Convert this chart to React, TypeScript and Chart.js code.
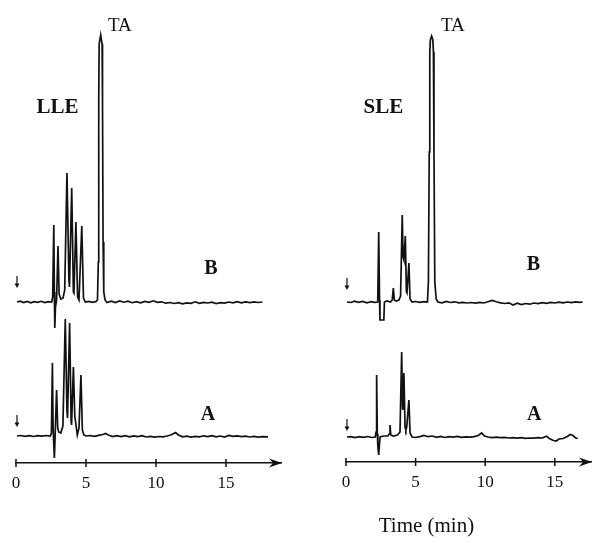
import React, { useEffect, useRef } from "react";
import { Chart, registerables } from "chart.js";
Chart.register(...registerables);

type Pt = [number, number];

const SERIF = "'Liberation Serif', 'Times New Roman', serif";
const INK = "#111";

// Time axis ticks (min)
const TIME_TICKS = [0, 5, 10, 15];

// LLE, sample B : [time (min), detector signal]
const lleB: Pt[] = [
  [0.07, 0], [0.3, 0.8], [0.55, -0.5], [0.8, 0.6], [1.05, -0.8], [1.3, 0.4], [1.55, -0.3], [1.8, 0.7], [2.05, -0.6], [2.3, 0.3], [2.55, 0],
  [2.62, 5], [2.7, 77], [2.74, 10], [2.77, -26], [2.82, -5], [2.9, 2], [3.0, 56], [3.08, 8], [3.2, 3], [3.36, 4], [3.48, 12], [3.64, 129],
  [3.78, 22], [3.82, 15], [3.98, 114], [4.1, 10], [4.14, 9], [4.28, 80], [4.4, 5], [4.5, 2], [4.7, 76], [4.82, 4], [4.95, 0],
  [5.2, 0.6], [5.45, -0.4], [5.7, 0.3], [5.82, 2], [5.88, 40], [5.91, 200], [5.94, 258], [6.05, 267], [6.15, 258], [6.18, 200],
  [6.22, 60], [6.27, 10], [6.36, 2], [6.5, -0.5], [6.8, 0.8], [7.1, -0.6], [7.4, 1.0], [7.7, -0.2], [8.0, 0.9], [8.3, -0.7], [8.6, 0.4],
  [8.9, -0.9], [9.2, 0.6], [9.5, -0.3], [9.8, 1.2], [10.1, -0.4], [10.4, 0.2], [10.7, -1.2], [11.0, -0.5], [11.3, -1.5], [11.6, -0.6],
  [11.9, -1.8], [12.2, -0.8], [12.5, -1.3], [12.8, 0.2], [13.1, -1.4], [13.4, -0.4], [13.7, -1.0], [14.0, -0.2], [14.3, -1.6],
  [14.6, -0.7], [14.9, -1.1], [15.2, 0.0], [15.5, -0.8], [15.8, 0.3], [16.1, -0.9], [16.4, 0.1], [16.7, -0.6], [17.0, 0.2],
  [17.3, -0.5], [17.6, 0.0],
];

// LLE, sample A
const lleA: Pt[] = [
  [0.07, 0], [0.35, 0.5], [0.65, -0.4], [0.95, 0.3], [1.25, -0.5], [1.55, 0.4], [1.85, -0.2], [2.15, 0.5], [2.45, 0],
  [2.53, 3], [2.6, 73], [2.65, 8], [2.74, -22], [2.79, -2], [2.9, 46], [2.98, 8], [3.05, 4], [3.2, 3], [3.35, 10], [3.52, 117],
  [3.64, 25], [3.68, 18], [3.83, 113], [3.94, 14], [3.97, 11], [4.1, 69], [4.2, 20], [4.38, 1], [4.5, 8], [4.64, 61], [4.74, 6],
  [4.85, 1], [5.0, 0], [5.3, 0.5], [5.6, -0.3], [5.9, 0.6], [6.2, 1.5], [6.4, 2.5], [6.6, 1], [6.9, -0.5], [7.2, 0.3], [7.5, -0.6],
  [7.8, 0.4], [8.1, -0.8], [8.4, 0.2], [8.7, -0.7], [9.0, 0.3], [9.3, -1.0], [9.6, -0.3], [9.9, -1.2], [10.2, -0.5], [10.5, -0.9],
  [10.8, 0.0], [11.1, 1.2], [11.4, 3.5], [11.6, 1.0], [11.9, -0.8], [12.2, -0.2], [12.5, -1.1], [12.8, -0.3], [13.1, -0.9],
  [13.4, 0.2], [13.7, -0.6], [14.0, 0.4], [14.3, -0.8], [14.6, 0.0], [14.9, -1.0], [15.2, 0.6], [15.5, -0.4], [15.8, 0.2],
  [16.1, -0.7], [16.4, -0.2], [16.7, -1.0], [17.0, -0.4], [17.3, -1.1], [17.6, -0.6], [18.0, -0.8],
];

// SLE, sample B
const sleB: Pt[] = [
  [0.07, 0], [0.35, -0.5], [0.6, 0.8], [0.9, -0.3], [1.2, 0.6], [1.5, -0.8], [1.8, 0.3], [2.05, -0.4], [2.28, 0], [2.35, 70],
  [2.41, 2], [2.44, -18], [2.72, -18], [2.76, 0], [2.95, 1], [3.2, 0], [3.32, 2], [3.4, 14], [3.47, 2], [3.6, 1], [3.8, 2],
  [3.92, 6], [4.04, 87], [4.1, 45], [4.16, 42], [4.26, 66], [4.34, 10], [4.38, 9], [4.52, 39], [4.6, 3], [4.75, 0], [5.0, 0.5],
  [5.3, -0.3], [5.6, 0.4], [5.85, 0], [5.92, 20], [5.98, 150], [6.02, 250], [6.06, 262], [6.15, 266], [6.24, 262], [6.28, 250],
  [6.32, 150], [6.38, 20], [6.48, 3], [6.6, 0], [6.9, -0.8], [7.2, 0.5], [7.5, -0.5], [7.8, 0.2], [8.1, -0.9], [8.4, -0.3],
  [8.7, -1.0], [9.0, -0.5], [9.3, -1.2], [9.6, -0.4], [9.9, -1.0], [10.2, 0.3], [10.5, 1.5], [10.8, 0.2], [11.1, -0.8],
  [11.4, -1.5], [11.7, -0.8], [12.0, -3.0], [12.3, -1.2], [12.6, -2.6], [12.9, -1.5], [13.2, -2.2], [13.5, -1.0], [13.8, -1.6],
  [14.1, -0.6], [14.4, -1.3], [14.7, -0.4], [15.0, -1.0], [15.3, -0.2], [15.6, -0.9], [15.9, 0.0], [16.2, -0.6], [16.5, 0.1],
  [16.8, -0.4], [17.0, 0.0],
];

// SLE, sample A
const sleA: Pt[] = [
  [0.07, 0], [0.35, 0.4], [0.65, -0.6], [0.95, 0.3], [1.25, -0.4], [1.55, 0.5], [1.85, -0.5], [2.1, 0], [2.16, 5], [2.2, 62],
  [2.25, 3], [2.29, -10], [2.35, -18], [2.4, -8], [2.45, 0], [2.7, 1], [3.0, 1], [3.1, 3], [3.16, 12], [3.22, 2], [3.4, 1],
  [3.7, 2], [3.88, 5], [4.0, 85], [4.06, 30], [4.08, 27], [4.16, 64], [4.24, 10], [4.3, 7], [4.36, 10], [4.52, 37], [4.6, 4],
  [4.75, 0], [5.0, -0.5], [5.3, 0.4], [5.6, 1.5], [5.9, 0.3], [6.2, 1.0], [6.5, -0.3], [6.8, 0.6], [7.1, -0.5], [7.4, 0.4],
  [7.7, -0.2], [8.0, 0.6], [8.3, -0.3], [8.6, 0.2], [8.9, -0.1], [9.2, 0.4], [9.5, 1.5], [9.74, 4], [9.95, 1.0], [10.2, 0.0],
  [10.5, -0.6], [10.8, -0.2], [11.1, -0.7], [11.4, -0.4], [11.7, -1.0], [12.0, -0.6], [12.3, -1.1], [12.6, -0.7], [12.9, -1.3],
  [13.2, -1.0], [13.5, -1.2], [13.8, -0.6], [14.1, -1.0], [14.4, 0.8], [14.6, -1.5], [14.9, -3.5], [15.1, -4], [15.3, -2.0],
  [15.6, -1.5], [15.9, 0.5], [16.1, 2.5], [16.3, 1.5], [16.5, -1.0], [16.65, -1.5],
];

interface Label { text: string; t: number; v: number; font: string; align: CanvasTextAlign; }
interface Panel {
  b: Pt[]; a: Pt[];
  bOffset: number; aOffset: number;
  xMax: number;
  pad: { left: number; right: number; top: number; bottom: number };
  labels: Label[];
  marks: { t: number; v: number }[];
}

const BOLD20 = `bold 20px ${SERIF}`;
const BOLD21 = `bold 21px ${SERIF}`;
const REG19 = `19px ${SERIF}`;
const REG21 = `21px ${SERIF}`;

const leftPanel: Panel = {
  b: lleB, a: lleA, bOffset: 161, aOffset: 27, xMax: 18.93,
  pad: { left: 16, right: 15, top: 3, bottom: 40 },
  labels: [
    { text: "TA", t: 6.57, v: 432, font: REG19, align: "left" },
    { text: "LLE", t: 2.96, v: 350, font: BOLD21, align: "center" },
    { text: "B", t: 13.93, v: 189, font: BOLD20, align: "center" },
    { text: "A", t: 13.71, v: 43, font: BOLD20, align: "center" },
  ],
  marks: [{ t: 0.07, v: 175 }, { t: 0.07, v: 36 }],
};

const rightPanel: Panel = {
  b: sleB, a: sleA, bOffset: 160, aOffset: 25, xMax: 17.6,
  pad: { left: 50, right: 1, top: 2, bottom: 41 },
  labels: [
    { text: "TA", t: 6.82, v: 431, font: REG19, align: "left" },
    { text: "SLE", t: 2.69, v: 349, font: BOLD21, align: "center" },
    { text: "B", t: 13.46, v: 192, font: BOLD20, align: "center" },
    { text: "A", t: 13.53, v: 42, font: BOLD20, align: "center" },
    { text: "Time (min)", t: 5.78, v: -70, font: REG21, align: "center" },
  ],
  marks: [{ t: 0.07, v: 172 }, { t: 0.07, v: 31 }],
};

function makeChart(canvas: HTMLCanvasElement, p: Panel) {
  const overlay = {
    id: "overlay",
    afterDraw(chart: any) {
      const { ctx, chartArea } = chart;
      const x = chart.scales.x;
      const y = chart.scales.y;
      const ay = chartArea.bottom;
      ctx.save();
      ctx.strokeStyle = INK;
      ctx.fillStyle = INK;
      ctx.lineWidth = 1.5;
      for (const t of TIME_TICKS) {
        const px = x.getPixelForValue(t);
        ctx.beginPath();
        ctx.moveTo(px, ay - 4);
        ctx.lineTo(px, ay + 4);
        ctx.stroke();
      }
      const xr = chartArea.right;
      ctx.beginPath();
      ctx.moveTo(xr + 1, ay);
      ctx.lineTo(xr - 12, ay - 4.5);
      ctx.lineTo(xr - 8, ay);
      ctx.lineTo(xr - 12, ay + 4.5);
      ctx.closePath();
      ctx.fill();
      ctx.lineWidth = 1.2;
      for (const m of p.marks) {
        const px = x.getPixelForValue(m.t);
        const tip = y.getPixelForValue(m.v);
        ctx.beginPath();
        ctx.moveTo(px, tip - 12);
        ctx.lineTo(px, tip - 3);
        ctx.stroke();
        ctx.beginPath();
        ctx.moveTo(px - 2.5, tip - 4.5);
        ctx.lineTo(px, tip);
        ctx.lineTo(px + 2.5, tip - 4.5);
        ctx.closePath();
        ctx.fill();
      }
      ctx.textBaseline = "alphabetic";
      for (const l of p.labels) {
        ctx.font = l.font;
        ctx.textAlign = l.align;
        ctx.fillText(l.text, x.getPixelForValue(l.t), y.getPixelForValue(l.v));
      }
      ctx.restore();
    },
  };

  const ds = (pts: Pt[], off: number) => ({
    data: pts.map(([t, v]) => ({ x: t, y: v + off })),
    borderColor: INK,
    borderWidth: 1.7,
    pointRadius: 0,
    tension: 0,
    fill: false,
  });

  return new Chart(canvas, {
    type: "line",
    data: { datasets: [ds(p.b, p.bOffset), ds(p.a, p.aOffset)] },
    options: {
      animation: false,
      responsive: false,
      layout: { padding: p.pad },
      plugins: { legend: { display: false }, tooltip: { enabled: false } },
      scales: {
        x: {
          type: "linear",
          min: 0,
          max: p.xMax,
          afterFit: (s: any) => { s.height = 40; },
          grid: { display: false, drawTicks: false },
          border: { display: true, color: INK, width: 1.5 },
          ticks: {
            stepSize: 5,
            includeBounds: false,
            color: INK,
            padding: 10,
            font: { family: SERIF, size: 17 },
            maxRotation: 0,
          },
        },
        y: { display: false, min: 0, max: 460 },
      },
    },
    plugins: [overlay],
  } as any);
}

export default function App() {
  const leftRef = useRef<HTMLCanvasElement>(null);
  const rightRef = useRef<HTMLCanvasElement>(null);
  useEffect(() => {
    const c1 = makeChart(leftRef.current!, leftPanel);
    const c2 = makeChart(rightRef.current!, rightPanel);
    return () => { c1.destroy(); c2.destroy(); };
  }, []);
  return (
    <div style={{ position: "absolute", left: 0, top: 0, width: 592, height: 543, background: "#fff", overflow: "hidden" }}>
      <canvas ref={leftRef} width={296} height={543} style={{ position: "absolute", left: 0, top: 0 }} />
      <canvas ref={rightRef} width={296} height={543} style={{ position: "absolute", left: 296, top: 0 }} />
    </div>
  );
}
